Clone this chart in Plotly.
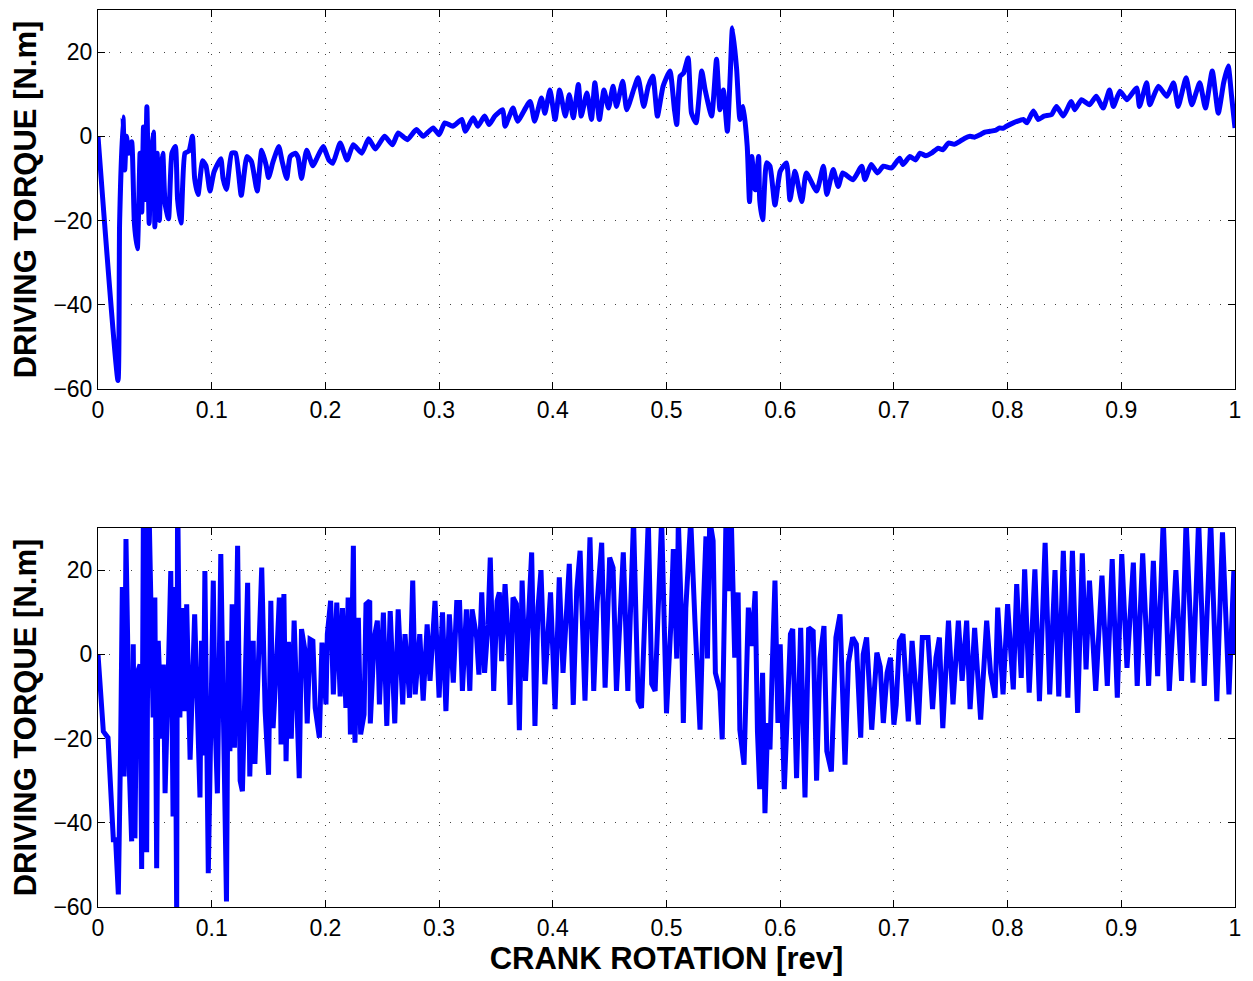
import plotly.graph_objects as go

# ---------------- data ----------------
x_top = [0, 0.0176, 0.019, 0.022, 0.0235, 0.025, 0.027, 0.0296, 0.032, 0.0346,
         0.037, 0.0385, 0.040, 0.0415, 0.043, 0.045, 0.0465, 0.0487, 0.050, 0.051,
         0.052, 0.054, 0.0555, 0.057, 0.059, 0.062, 0.065, 0.068, 0.070, 0.073,
         0.0765, 0.080, 0.083, 0.085, 0.088, 0.092, 0.095, 0.0985, 0.102,
         0.108, 0.110, 0.113, 0.1176, 0.121, 0.126, 0.131, 0.135, 0.140, 0.144,
         0.148, 0.150, 0.154, 0.159, 0.162, 0.166, 0.169, 0.1735,
         0.176, 0.179, 0.1835, 0.189, 0.192, 0.198, 0.203, 0.2065, 0.213, 0.219,
         0.2245, 0.232, 0.238, 0.244, 0.252, 0.259, 0.264, 0.272, 0.280, 0.286,
         0.2948, 0.300, 0.305, 0.312, 0.320, 0.323, 0.330, 0.334,
         0.340, 0.344, 0.349, 0.356, 0.358, 0.365, 0.369, 0.380, 0.384, 0.390,
         0.393, 0.3975, 0.402, 0.406, 0.411, 0.4145, 0.418, 0.4225, 0.425, 0.430,
         0.434, 0.437, 0.441, 0.445, 0.449, 0.453, 0.456, 0.4615, 0.465, 0.471,
         0.475, 0.480, 0.484, 0.488, 0.492, 0.497, 0.503,
         0.507, 0.509, 0.512, 0.515, 0.519, 0.522, 0.526, 0.531, 0.534, 0.5397,
         0.544, 0.547, 0.550, 0.5535, 0.556, 0.558, 0.5617, 0.5646, 0.5675, 0.571,
         0.573, 0.575, 0.578, 0.581, 0.582, 0.5846, 0.588, 0.591, 0.5954, 0.600,
         0.6055, 0.6086, 0.613, 0.619, 0.623, 0.632, 0.638, 0.641, 0.6466, 0.651,
         0.655, 0.664, 0.6717, 0.6745, 0.680,
         0.6855, 0.6907, 0.698, 0.705, 0.708, 0.714, 0.719, 0.723, 0.728, 0.733,
         0.739, 0.743, 0.748, 0.753, 0.758, 0.762, 0.767, 0.771, 0.776, 0.780,
         0.7845, 0.789, 0.793, 0.796, 0.799, 0.805, 0.8138,
         0.817, 0.8226, 0.827, 0.832, 0.8388, 0.843, 0.849, 0.856, 0.859, 0.865,
         0.872, 0.878, 0.884, 0.8896, 0.893, 0.8988, 0.905, 0.9135, 0.916, 0.9223,
         0.925, 0.9326, 0.940, 0.946, 0.950, 0.957, 0.962, 0.969, 0.974, 0.980,
         0.9853, 0.990, 0.994, 0.997, 1.0]
y_top = [0, -58, -20.7, 4.6, -8, 0, -4, -1.3, -20.6, -26.7,
         -4, -18, 2.2, -15, 7, -20.7, -6, 1, -21.5, -8,
         -4, -20, -8, -4, -16, -19.6, -4, -2.4, -15, -20.6,
         -4, -3.5, 0, -10, -13.8, -5.8, -7, -13, -8.5,
         -5.3, -10, -12.6, -4, -4, -14, -4.8, -6, -13, -3.3,
         -7, -9.8, -6, -2.4, -6, -10, -4.8, -4,
         -5, -10, -3.3, -7, -5.5, -2.4, -5.6, -6.4, -1.6, -5.6,
         -2, -4, -0.6, -3, 0, -2, 0.8, -0.8, 1.6, 0,
         2, 0.4, 3.2, 2.4, 4, 1.2, 4.4, 2.4,
         4.8, 2.8, 4.8, 6.3, 2.4, 6.7, 3.6, 8.3, 3.6, 9.1,
         5.5, 11, 4, 11, 4.8, 9.9, 4.4, 12.3, 4.8, 10.3,
         4, 12.7, 4, 11, 6.7, 11.9, 7.1, 13.1, 6.3, 11,
         13.9, 7.1, 11.9, 14.3, 4.8, 11.9, 15.5,
         6.3, 2.8, 14.3, 15, 18.6, 5.5, 3.2, 15.5, 11, 4.8,
         18.3, 6.3, 11, 1.2, 14.3, 25.8, 15.9, 4, 7.1, -2.4,
         -15.5, -4.8, -12.7, -4.8, -15.1, -19.8, -6.3, -7.1, -16.3, -8.3,
         -6.3, -15.1, -8.3, -15.5, -8.7, -13, -7.1, -13.8, -7.9, -11.9,
         -8.7, -10.3, -7.1, -10.3, -6.7,
         -8.7, -7.1, -7.5, -5.2, -6.7, -4.8, -5.6, -4, -4.6, -4,
         -2.8, -3.2, -1.6, -1.9, -1.2, -0.5, 0, -0.2, 0.4, 1.0,
         1.2, 1.4, 2, 1.9, 2.4, 3.2, 4.0,
         3.2, 6.0, 4, 4.8, 5.2, 7.1, 4.8, 8.3, 6.3, 8.7,
         7.5, 9.5, 6.7, 11, 7.1, 10.7, 8.7, 11.5, 7.1, 12.7,
         7.5, 11.9, 9.5, 12.7, 7.1, 13.9, 7.5, 12.7, 6.7, 15.5,
         5.5, 12.7, 16.7, 9.5, 2.0]

x_bot = [0, 0.0047, 0.0088, 0.0135, 0.0155, 0.0179, 0.020, 0.0214, 0.023, 0.0246,
         0.026, 0.0275, 0.0296, 0.031, 0.0325, 0.034, 0.037, 0.0384, 0.040, 0.0415,
         0.0428, 0.0445, 0.047, 0.0485, 0.050, 0.0516, 0.053, 0.056, 0.0575, 0.059,
         0.062, 0.064, 0.066, 0.0675, 0.0692, 0.0700, 0.072, 0.074, 0.0765, 0.078,
         0.081, 0.083, 0.085, 0.0897, 0.091, 0.0925, 0.094, 0.097, 0.0985, 0.1014,
         0.103, 0.105, 0.108, 0.110, 0.113, 0.1145, 0.116, 0.118, 0.120, 0.1228,
         0.125, 0.127, 0.1295, 0.1316, 0.1335, 0.1365, 0.138, 0.141, 0.144, 0.147,
         0.150, 0.152, 0.154, 0.157, 0.1595, 0.161, 0.1635, 0.1654, 0.1675, 0.170,
         0.1725, 0.177, 0.179, 0.182, 0.184, 0.1865, 0.189, 0.191, 0.1947, 0.197,
         0.2005, 0.2017, 0.2046, 0.207, 0.21, 0.213, 0.215, 0.218, 0.220, 0.222,
         0.2246, 0.226, 0.229, 0.231, 0.234, 0.2357, 0.239, 0.2395, 0.243, 0.2457,
         0.2475, 0.251, 0.254, 0.257, 0.261, 0.264, 0.268, 0.270, 0.274, 0.2768,
         0.279, 0.283, 0.286, 0.2895, 0.292, 0.2964, 0.300, 0.303, 0.306, 0.309,
         0.3125, 0.3155, 0.318, 0.3205, 0.324, 0.327, 0.329, 0.333, 0.335, 0.3375,
         0.340, 0.343, 0.345, 0.348, 0.351, 0.353, 0.355, 0.358, 0.361, 0.3624,
         0.365, 0.368, 0.3706, 0.373, 0.376, 0.3814, 0.3843, 0.387, 0.3896, 0.393,
         0.398, 0.402, 0.4057, 0.409, 0.4145, 0.418, 0.421, 0.424, 0.4283, 0.4327,
         0.436, 0.439, 0.443, 0.446, 0.450, 0.453, 0.456, 0.462, 0.466, 0.471,
         0.475, 0.478, 0.481, 0.484, 0.487, 0.490, 0.4957, 0.500, 0.504, 0.506,
         0.509, 0.5104, 0.513, 0.5148, 0.517, 0.519, 0.5213, 0.525, 0.5295, 0.532,
         0.5347, 0.536, 0.538, 0.541, 0.543, 0.547, 0.549, 0.5523, 0.555, 0.557,
         0.560, 0.563, 0.5645, 0.5682, 0.572, 0.575, 0.578, 0.580, 0.582, 0.5845,
         0.5866, 0.589, 0.591, 0.593, 0.5954, 0.598, 0.600, 0.6036, 0.606, 0.609,
         0.611, 0.6144, 0.618, 0.6218, 0.625, 0.629, 0.632, 0.635, 0.6385, 0.641,
         0.645, 0.649, 0.6526, 0.655, 0.657, 0.660, 0.6637, 0.667, 0.6708, 0.673,
         0.676, 0.6805, 0.685, 0.688, 0.6907, 0.694, 0.697, 0.700, 0.702, 0.7048,
         0.708, 0.7127, 0.716, 0.7215, 0.725, 0.730, 0.734, 0.737, 0.740, 0.743,
         0.748, 0.752, 0.7567, 0.760, 0.764, 0.767, 0.771, 0.7763, 0.7816, 0.785,
         0.789, 0.7913, 0.796, 0.800, 0.805, 0.808, 0.812, 0.815, 0.819, 0.824,
         0.828, 0.833, 0.837, 0.8417, 0.845, 0.849, 0.853, 0.857, 0.8616, 0.8657,
         0.869, 0.872, 0.8775, 0.883, 0.8877, 0.892, 0.8965, 0.9004, 0.905, 0.9106,
         0.914, 0.9188, 0.924, 0.9282, 0.932, 0.9369, 0.9422, 0.948, 0.953, 0.957,
         0.963, 0.968, 0.973, 0.9786, 0.984, 0.989, 0.9947, 0.999, 1.0]
y_bot = [0, -18.3, -19.8, -44, -44, -57, -19.8, 16, -29, 27.4,
         4.8, -27, -44.4, 2.4, -43.7, -4.8, -2.4, -51, 38, -12,
         -47, 40, 9.5, -15, 13.5, -50.8, 3.2, -20, -2.4, -33,
         -2.4, 19.8, -38.5, 16, -62, 40, -15, 11, -13.5, 11.9,
         -25, -3, 9.5, -34, 3.2, -24, 19.8, -52, -26.7, 17.5,
         -15.9, -33, 23.8, -15, -58.7, 3.2, -23, 11.9, -22.2, 25.8,
         -30, -32.5, -3.8, 17, -29, 3.2, -26, 2, 20.6, -13.5,
         -28.6, 12.7, -17.5, -2, 13.5, -21.4, 14.3, -25.4, 3, -20,
         8, -29.4, 6, 1, -16.4, 3.6, 3.2, -12.7, -19.8, 2.8,
         -11.9, 4.8, 12.7, -9.5, 12.3, -10, 11, -12.7, 13.5, -19,
         25.8, -21, 8.7, -19, -14.3, 11.9, 12.7, -16.4, 4, 8,
         -11.9, 9.9, -17, 10.3, -16.4, 10.7, -11.9, 4.8, -10.3, 17.5,
         -9.5, 4.8, -11, 7.1, -6.3, 12.7, -10.3, 10, -13.5, 9.5,
         -6.7, 12.3, 12.3, -8.7, 10.7, -8.7, 10.7, 4, -4.8, 14.7,
         -4.4, 7.1, 23, -8.7, 12.7, 14.7, -1.6, 16.7, 2.4, -12,
         13.5, 12, -18, 17.5, -6.3, 24.2, -17, 11.1, 20, -7.1,
         14.7, -13, 18.3, -4.4, 21.5, -12, 15, 24.6, -11, 27.8,
         -8.7, 12.3, 26.5, -7.9, 23, 20.6, -8.7, 24.2, -8.7, 32,
         -11, -12.7, 15, 32, -7, -8.7, 32, -14, 8, 25,
         -1, 32, 10, -16.3, 11, 20, 32, 8, -17.9, 8,
         28, -1, 32, 27, -4.4, -8.7, -20.2, 32, 15, 32,
         -0.8, 14.7, -17.9, -26.2, 11.1, 2, 15, -18.3, -32, -4.4,
         -37.7, -16.3, -22.6, -3, 17.5, -16.3, 2.4, -32, -12, 4.8,
         6, -29.4, 6.3, -34, 6.3, 5.5, -30, -1, 6.7, -23,
         -27.8, 4, 9.5, -14.3, -26.2, -2, 4, 2.4, -19.8, 0,
         4, -17.9, 0.4, -3, -16.3, -4.4, -0.8, -16.7, -12, 3.2,
         4.8, -15.9, 3.2, -16.7, 4, 4, -13, -0.8, 4, -17.5,
         8, -11.9, 8, -6.3, 8, -13, 6.3, -15.5, 8, -4.4,
         -10.3, 11.1, -9.5, 11.9, -8.3, 16.7, -5.6, 20.2, -9.1, 20.2,
         -11.1, 26.5, -9.5, 20, -10, 24.6, -10.3, 24.6, -13.9, 24,
         -3.6, 17.5, -8.7, 18.7, -7.5, 22.6, -10.3, 23.8, -3.2, 21.8,
         -7.5, 24, -7.5, 22.2, -5.2, 32, -8.7, 20, -6.3, 32,
         -6.7, 32, -7.5, 32, -11.1, 29, -9.5, 20, 0]

x_ticks = [0, 0.1, 0.2, 0.3, 0.4, 0.5, 0.6, 0.7, 0.8, 0.9, 1]
x_tick_labels = ["0", "0.1", "0.2", "0.3", "0.4", "0.5", "0.6", "0.7", "0.8", "0.9", "1"]
y_ticks = [-60, -40, -20, 0, 20]
y_tick_labels = ["\u221260", "\u221240", "\u221220", "0", "20"]

x_title = "CRANK ROTATION [rev]"
y_title = "DRIVING TORQUE [N.m]"

# ---------------- figure ----------------
FONT = "Liberation Sans, Arial, Helvetica, sans-serif"

fig = go.Figure()
fig.add_trace(go.Scatter(x=x_top, y=y_top, mode="lines",
                         line=dict(color="#0000ff", width=5, shape="spline", smoothing=0.5),
                         xaxis="x", yaxis="y", showlegend=False))
fig.add_trace(go.Scatter(x=x_bot, y=y_bot, mode="lines",
                         line=dict(color="#0000ff", width=5),
                         xaxis="x2", yaxis="y2", showlegend=False))

axis_common = dict(
    showline=True, linecolor="black", linewidth=1, mirror="ticks",
    ticks="inside", ticklen=7, tickcolor="black", tickwidth=1,
    showgrid=True, gridcolor="#444444", gridwidth=1, griddash="1px,10px",
    zeroline=False, tickfont=dict(family=FONT, size=23, color="black"),
)
title_font = dict(family=FONT, size=31, color="black", weight="bold")

fig.update_layout(
    width=1245, height=973,
    margin=dict(l=90, r=18, t=2, b=74),
    paper_bgcolor="white", plot_bgcolor="white",
    xaxis=dict(domain=[0, 1], anchor="y", range=[0, 1],
               tickvals=x_ticks, ticktext=x_tick_labels, **axis_common),
    yaxis=dict(domain=[0.5775, 1], anchor="x", range=[-60, 30],
               tickvals=y_ticks, ticktext=y_tick_labels,
               title=dict(text=y_title, font=title_font, standoff=7),
               **axis_common),
    xaxis2=dict(domain=[0, 1], anchor="y2", range=[0, 1],
                tickvals=x_ticks, ticktext=x_tick_labels,
                title=dict(text=x_title, font=title_font, standoff=6),
                **axis_common),
    yaxis2=dict(domain=[0, 0.4225], anchor="x2", range=[-60, 30],
                tickvals=y_ticks, ticktext=y_tick_labels,
                title=dict(text=y_title, font=title_font, standoff=7),
                **axis_common),
)

fig.write_html("out.html")
